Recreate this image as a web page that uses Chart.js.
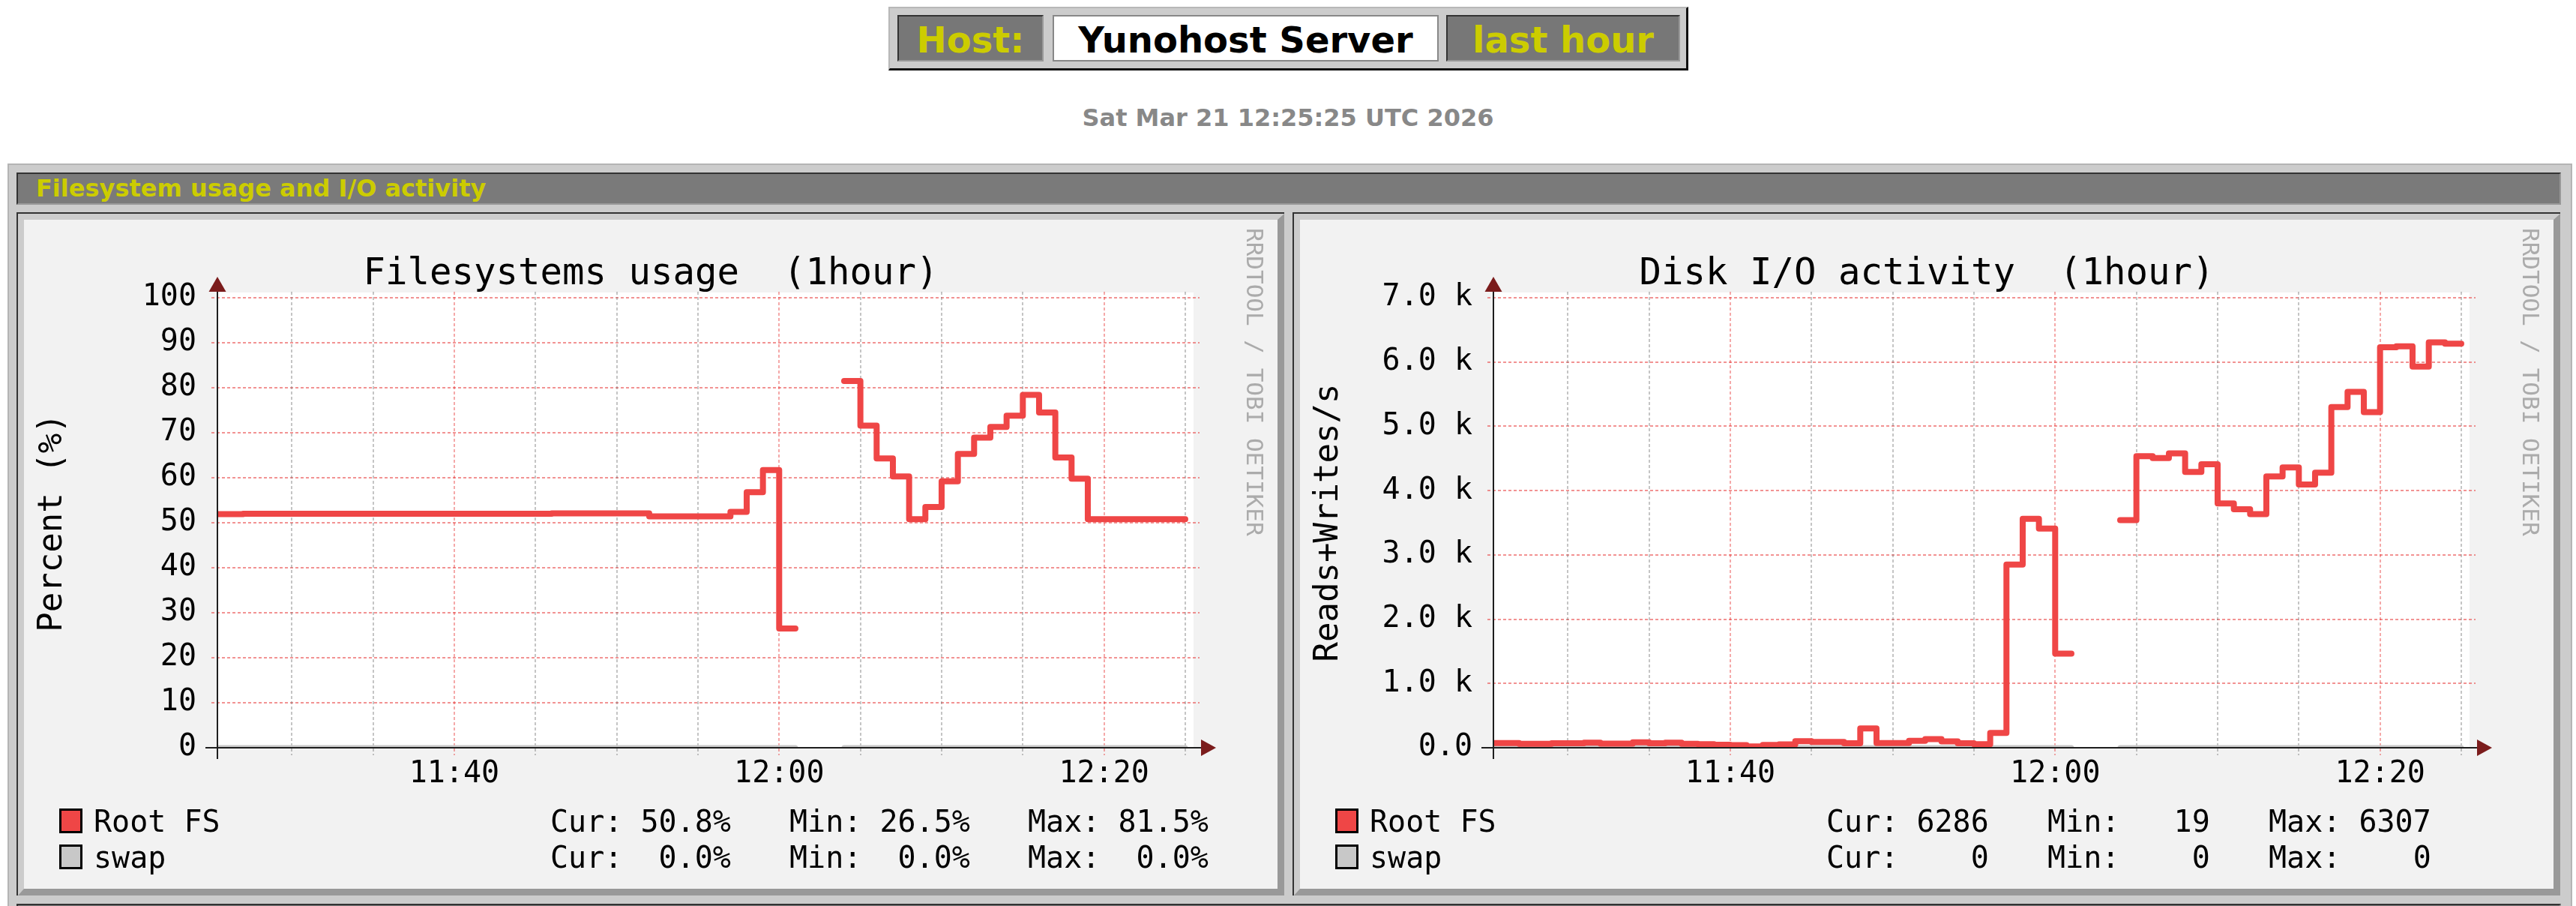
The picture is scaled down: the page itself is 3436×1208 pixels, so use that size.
<!DOCTYPE html>
<html>
<head>
<meta charset="utf-8">
<title>Filesystem usage and I/O activity</title>
<script src="https://cdn.jsdelivr.net/npm/chart.js@4.4.1/dist/chart.umd.min.js"></script>
<style>
  body { margin: 0; width: 3436px; height: 1208px; overflow: hidden; background: #fff; position: relative; font-family: 'DejaVu Sans', sans-serif; }
  .abs { position: absolute; box-sizing: border-box; }
  #hdr { left: 1185px; top: 9px; width: 1067px; height: 85px; background: #ccc;
         border-top: 2px solid #b8b8b8; border-left: 2px solid #b8b8b8; border-bottom: 3px solid #111; border-right: 3px solid #111; }
  .cell { top: 20px; height: 62px; display: flex; align-items: center; justify-content: center;
          font-weight: bold; font-size: 48px; padding-top: 3px; }
  .dark { background: #777; color: #cccc00; border-top: 2px solid #333; border-left: 2px solid #333; border-bottom: 2px solid #999; border-right: 2px solid #999; }
  .light { background: #fff; color: #000; border: 2px solid #888; }
  #stamp { left: 0; top: 141px; width: 3436px; text-align: center; font-weight: bold; font-size: 32px; line-height: 32px; color: #888; }
  #panel { left: 10px; top: 218px; width: 3421px; height: 1100px; background: #ccc; border: 2px solid #b4b4b4; }
  .bar { left: 22px; width: 3394px; background: #7a7a7a; color: #cccc00; font-weight: bold; font-size: 32px; line-height: 39px;
         padding-left: 24px; border-top: 2px solid #333; border-left: 2px solid #333; border-bottom: 2px solid #999; border-right: 2px solid #999; }
  .imgwrap { top: 283px; border-top: 2px solid #333; border-left: 2px solid #333; }
  .frame { border-top: 8px solid #ccc; border-left: 8px solid #ccc; border-right: 9px solid #999; border-bottom: 9px solid #999; background: #f2f2f2; }
  canvas { display: block; }
</style>
</head>
<body>
<div class="abs" id="hdr"></div>
<div class="abs cell dark" style="left:1197px;width:195px;">Host:</div>
<div class="abs cell light" style="left:1404px;width:515px;">Yunohost Server</div>
<div class="abs cell dark" style="left:1929px;width:312px;">last hour</div>
<div class="abs" id="stamp">Sat Mar 21 12:25:25 UTC 2026</div>

<div class="abs" id="panel"></div>
<div class="abs bar" style="top:230px;height:43px;">Filesystem usage and I/O activity</div>
<div class="abs imgwrap" style="left:22px;"><div class="frame"><canvas id="fsChart" width="1672" height="892"></canvas></div></div>
<div class="abs imgwrap" style="left:1724px;"><div class="frame"><canvas id="ioChart" width="1672" height="892"></canvas></div></div>
<div class="abs bar" style="top:1205px;height:43px;"></div>

<script>
// time window shown on both graphs
const viewStart = '11:25:25';
const viewEnd = '12:25:25';

// one entry per minute, value holds until the next minute
const timeLabels = [
  '11:25','11:26','11:27','11:28','11:29','11:30','11:31','11:32','11:33','11:34',
  '11:35','11:36','11:37','11:38','11:39','11:40','11:41','11:42','11:43','11:44',
  '11:45','11:46','11:47','11:48','11:49','11:50','11:51','11:52','11:53','11:54',
  '11:55','11:56','11:57','11:58','11:59','12:00','12:01','12:02','12:03','12:04',
  '12:05','12:06','12:07','12:08','12:09','12:10','12:11','12:12','12:13','12:14',
  '12:15','12:16','12:17','12:18','12:19','12:20','12:21','12:22','12:23','12:24'
];

const gridTimes = ['11:30','11:35','11:40','11:45','11:50','11:55','12:00','12:05','12:10','12:15','12:20','12:25'];
const timeTickLabels = ['11:40', '12:00', '12:20'];

// Filesystems usage (%)
const rootFsPercent = [
  51.9, 51.9, 52.0, 52.0, 52.0, 52.0, 52.0, 52.0, 52.0, 52.0,
  52.0, 52.0, 52.0, 52.0, 52.0, 52.0, 52.0, 52.0, 52.0, 52.0,
  52.0, 52.1, 52.1, 52.1, 52.1, 52.1, 52.1, 51.4, 51.4, 51.4,
  51.4, 51.4, 52.4, 56.8, 61.7, 26.5, null, null, null, 81.5,
  71.6, 64.3, 60.3, 50.8, 53.5, 59.2, 65.3, 68.9, 71.3, 73.8,
  78.4, 74.5, 64.5, 59.8, 50.8, 50.8, 50.8, 50.8, 50.8, 50.8
];
const swapPercent = [
  0, 0, 0, 0, 0, 0, 0, 0, 0, 0,
  0, 0, 0, 0, 0, 0, 0, 0, 0, 0,
  0, 0, 0, 0, 0, 0, 0, 0, 0, 0,
  0, 0, 0, 0, 0, 0, null, null, null, 0,
  0, 0, 0, 0, 0, 0, 0, 0, 0, 0,
  0, 0, 0, 0, 0, 0, 0, 0, 0, 0
];

// Disk I/O activity (reads+writes/s)
const rootFsIo = [
  73, 73, 61, 61, 69, 69, 78, 65, 65, 86,
  69, 78, 61, 55, 48, 40, 19, 45, 52, 103,
  90, 90, 69, 299, 73, 73, 107, 133, 98, 69,
  55, 230, 2850, 3560, 3410, 1465, null, null, null, 3540,
  4535, 4505, 4580, 4290, 4410, 3800, 3710, 3635, 4220, 4360,
  4095, 4280, 5300, 5535, 5220, 6230, 6245, 5930, 6307, 6286
];
const swapIo = [
  0, 0, 0, 0, 0, 0, 0, 0, 0, 0,
  0, 0, 0, 0, 0, 0, 0, 0, 0, 0,
  0, 0, 0, 0, 0, 0, 0, 0, 0, 0,
  0, 0, 0, 0, 0, 0, null, null, null, 0,
  0, 0, 0, 0, 0, 0, 0, 0, 0, 0,
  0, 0, 0, 0, 0, 0, 0, 0, 0, 0
];

const fsTickLabels = ['0', '10', '20', '30', '40', '50', '60', '70', '80', '90', '100'];
const ioTickLabels = ['0.0', '1.0 k', '2.0 k', '3.0 k', '4.0 k', '5.0 k', '6.0 k', '7.0 k'];

const seriesNames = ['Root FS', 'swap'];
const fsStats = [['Cur: 50.8%', 'Min: 26.5%', 'Max: 81.5%'], ['Cur:  0.0%', 'Min:  0.0%', 'Max:  0.0%']];
const ioStats = [['Cur: 6286', 'Min:   19', 'Max: 6307'], ['Cur:    0', 'Min:    0', 'Max:    0']];

const RED = '#ef4646';
const SWAP_GRAY = '#c8c8c8';
const MAJOR_GRID = 'rgba(230, 40, 40, 0.5)';
const MINOR_GRID = 'rgba(110, 110, 110, 0.5)';
const MONO = '"DejaVu Sans Mono", monospace';

Chart.defaults.font.family = MONO;
Chart.defaults.color = '#000';

function toMin(s) {
  const p = s.split(':').map(Number);
  return p[0] * 60 + p[1] + (p[2] || 0) / 60;
}

function fmtMin(v) {
  const h = Math.floor(v / 60), m = Math.round(v - h * 60);
  return h + ':' + String(m).padStart(2, '0');
}

// each minute value becomes a flat segment, nulls break the line
function stepPoints(values) {
  const pts = [];
  values.forEach((v, i) => {
    const t = toMin(timeLabels[i]);
    if (v === null) { pts.push({ x: t, y: null }); return; }
    pts.push({ x: t, y: v }, { x: t + 1, y: v });
  });
  return pts;
}

function rrdLook(cfg) {
  return {
    id: 'rrdLook',
    beforeDatasetsDraw(chart) {
      const { ctx, chartArea: a, scales: { x, y } } = chart;
      ctx.save();
      ctx.fillStyle = '#ffffff';
      ctx.fillRect(a.left, a.top - 7, a.width + 2, a.height + 7);
      ctx.setLineDash([4, 3]);
      ctx.lineWidth = 2;
      y.ticks.forEach(t => {
        if (t.value === y.min) return;
        const py = Math.round(y.getPixelForValue(t.value));
        ctx.strokeStyle = t.value % cfg.yMajor === 0 ? MAJOR_GRID : MINOR_GRID;
        ctx.beginPath();
        ctx.moveTo(a.left - 8, py);
        ctx.lineTo(a.right + 10, py);
        ctx.stroke();
      });
      ctx.lineWidth = 1.6;
      x.ticks.forEach(t => {
        const px = Math.round(x.getPixelForValue(t.value));
        ctx.strokeStyle = timeTickLabels.includes(fmtMin(t.value)) ? MAJOR_GRID : MINOR_GRID;
        ctx.beginPath();
        ctx.moveTo(px, a.top - 8);
        ctx.lineTo(px, a.bottom + 10);
        ctx.stroke();
      });
      ctx.restore();
    },
    afterDatasetsDraw(chart) {
      const { ctx, chartArea: a } = chart;
      ctx.save();
      ctx.strokeStyle = '#1e1e1e';
      ctx.lineWidth = 2;
      ctx.beginPath();
      ctx.moveTo(a.left, a.bottom + 15);
      ctx.lineTo(a.left, a.top - 8);
      ctx.moveTo(a.left - 16, a.bottom);
      ctx.lineTo(a.right + 12, a.bottom);
      ctx.stroke();
      ctx.fillStyle = '#7b1c1c';
      ctx.beginPath();
      ctx.moveTo(a.left - 11.5, a.top - 8);
      ctx.lineTo(a.left + 11.5, a.top - 8);
      ctx.lineTo(a.left, a.top - 28);
      ctx.closePath();
      ctx.fill();
      ctx.beginPath();
      ctx.moveTo(a.right + 12, a.bottom - 11);
      ctx.lineTo(a.right + 12, a.bottom + 11);
      ctx.lineTo(a.right + 32, a.bottom);
      ctx.closePath();
      ctx.fill();
      ctx.restore();
    },
    afterDraw(chart) {
      const { ctx, chartArea: a } = chart;
      ctx.save();
      ctx.fillStyle = '#000';
      ctx.textBaseline = 'alphabetic';

      // title
      ctx.font = '49px ' + MONO;
      ctx.textAlign = 'center';
      ctx.fillText(cfg.title, chart.width / 2, 86);

      // vertical axis title
      ctx.save();
      ctx.font = '44px ' + MONO;
      ctx.translate(50, (a.top + a.bottom) / 2);
      ctx.rotate(-Math.PI / 2);
      ctx.fillText(cfg.yTitle, 0, 0);
      ctx.restore();

      // watermark
      ctx.save();
      ctx.font = '31px ' + MONO;
      ctx.fillStyle = '#ababab';
      ctx.textAlign = 'left';
      ctx.translate(1631, 11);
      ctx.rotate(Math.PI / 2);
      ctx.fillText('RRDTOOL / TOBI OETIKER', 0, 0);
      ctx.restore();

      // legend
      ctx.font = '40px ' + MONO;
      ctx.textAlign = 'left';
      seriesNames.forEach((name, r) => {
        const base = 816 + r * 48;
        ctx.fillStyle = cfg.colors[r];
        ctx.fillRect(48.5, base - 29.5, 28, 30);
        ctx.lineWidth = 3;
        ctx.strokeStyle = '#000';
        ctx.strokeRect(48.5, base - 29.5, 28, 30);
        ctx.fillStyle = '#000';
        ctx.fillText(name, 93, base);
        cfg.stats[r].forEach((s, c) => ctx.fillText(s, cfg.cols[c], base));
      });
      ctx.restore();
    }
  };
}

function makeChart(id, cfg) {
  new Chart(document.getElementById(id), {
    type: 'line',
    data: {
      datasets: [
        { label: seriesNames[0], data: stepPoints(cfg.series[0]), borderColor: RED, borderWidth: 8,
          borderCapStyle: 'round', borderJoinStyle: 'round', pointRadius: 0, spanGaps: false, tension: 0 },
        { label: seriesNames[1], data: stepPoints(cfg.series[1]), borderColor: SWAP_GRAY, borderWidth: 7,
          borderCapStyle: 'round', pointRadius: 0, spanGaps: false, tension: 0 }
      ]
    },
    options: {
      responsive: false,
      animation: false,
      devicePixelRatio: 1,
      layout: { padding: { left: 0, top: 104, right: 114, bottom: 0 } },
      plugins: { legend: { display: false }, tooltip: { enabled: false }, title: { display: false } },
      scales: {
        x: {
          type: 'linear',
          min: toMin(viewStart),
          max: toMin(viewEnd),
          afterBuildTicks: axis => { axis.ticks = gridTimes.map(t => ({ value: toMin(t) })); },
          afterFit: axis => { axis.height = 188; },
          grid: { display: false, drawTicks: false },
          border: { display: false },
          ticks: {
            autoSkip: false, maxRotation: 0, minRotation: 0, padding: 12,
            font: { size: 40 }, color: '#000',
            callback: v => timeTickLabels.includes(fmtMin(v)) ? fmtMin(v) : ''
          }
        },
        y: {
          min: 0,
          max: cfg.yMax,
          afterFit: axis => { axis.width = 258; },
          grid: { display: false, drawTicks: false },
          border: { display: false },
          ticks: {
            stepSize: cfg.yStep, padding: 28, font: { size: 40 }, color: '#000',
            callback: v => v % cfg.yMajor === 0 ? cfg.yLabels[v / cfg.yMajor] : ''
          }
        }
      }
    },
    plugins: [rrdLook(cfg)]
  });
}

makeChart('fsChart', {
  title: 'Filesystems usage  (1hour)',
  yTitle: 'Percent (%)',
  yMax: 100, yStep: 5, yMajor: 10, yLabels: fsTickLabels,
  series: [rootFsPercent, swapPercent],
  colors: [RED, SWAP_GRAY],
  stats: fsStats,
  cols: [702, 1021, 1339]
});

makeChart('ioChart', {
  title: 'Disk I/O activity  (1hour)',
  yTitle: 'Reads+Writes/s',
  yMax: 7000, yStep: 500, yMajor: 1000, yLabels: ioTickLabels,
  series: [rootFsIo, swapIo],
  colors: [RED, SWAP_GRAY],
  stats: ioStats,
  cols: [702, 997, 1292]
});
</script>
</body>
</html>
